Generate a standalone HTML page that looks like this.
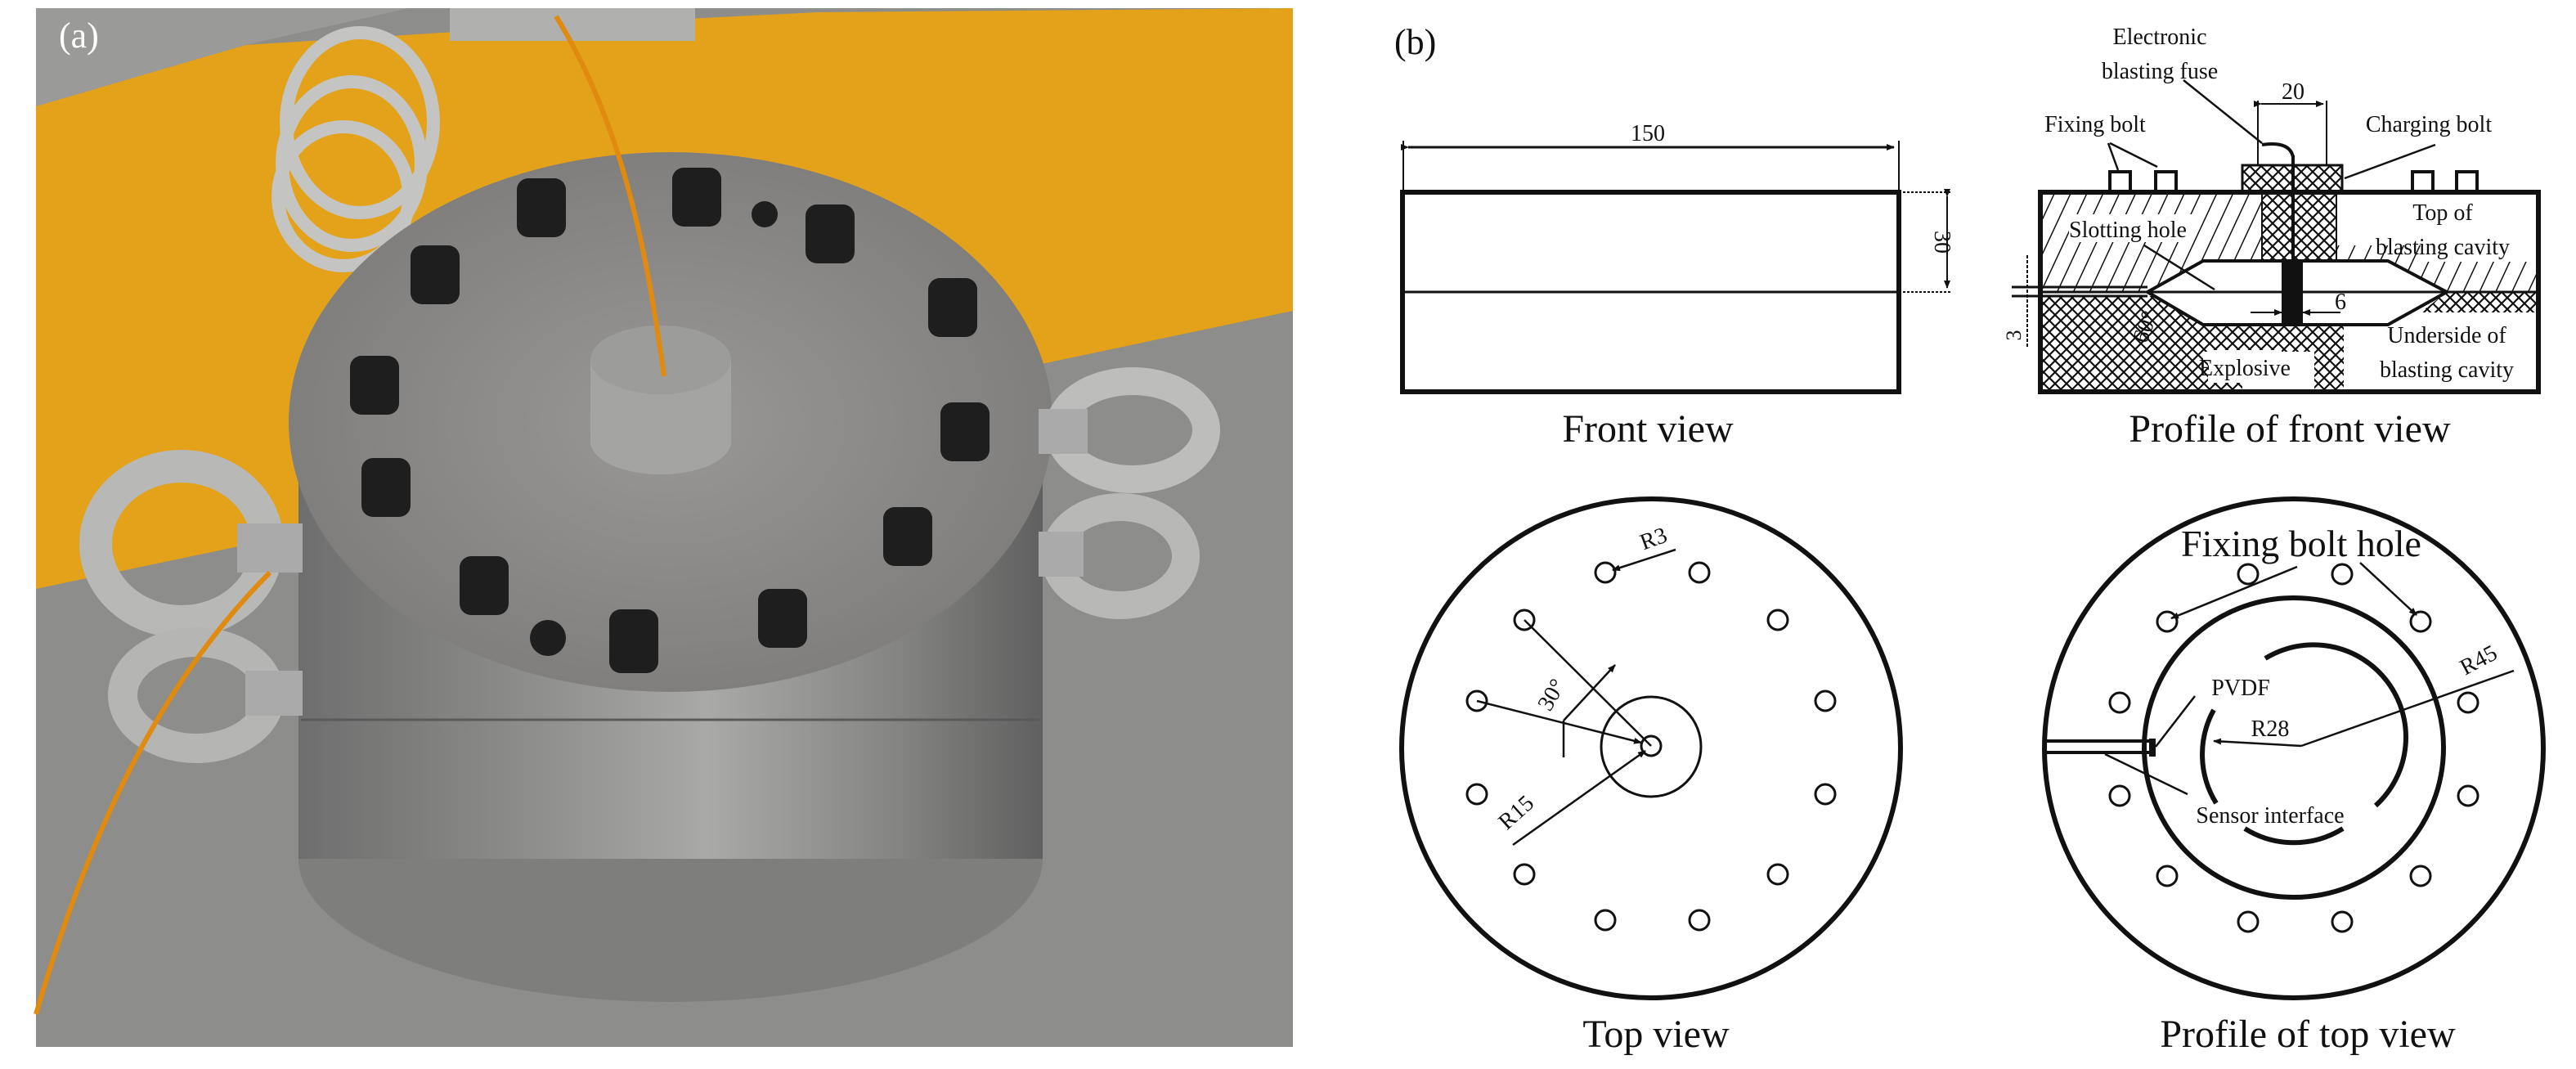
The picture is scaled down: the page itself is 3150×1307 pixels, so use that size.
<!DOCTYPE html>
<html><head><meta charset="utf-8"><style>
html,body{margin:0;padding:0;background:#fff;}
svg{display:block;}
text{font-family:"Liberation Serif",serif;fill:#111;}
</style></head><body>
<svg width="3150" height="1307" viewBox="0 0 3150 1307" xmlns="http://www.w3.org/2000/svg">
<defs>
<linearGradient id="metal" x1="0" x2="1" y1="0" y2="0">
<stop offset="0" stop-color="#6e6e6e"/><stop offset="0.3" stop-color="#8c8c8a"/><stop offset="0.55" stop-color="#a9a9a7"/><stop offset="0.8" stop-color="#858583"/><stop offset="1" stop-color="#606060"/>
</linearGradient>
<radialGradient id="topf" cx="0.5" cy="0.5" r="0.6">
<stop offset="0" stop-color="#9a9896"/><stop offset="1" stop-color="#7b7a78"/>
</radialGradient>
<pattern id="diag" width="18" height="18" patternUnits="userSpaceOnUse" patternTransform="rotate(25)">
<line x1="0" y1="0" x2="0" y2="18" stroke="#111" stroke-width="3"/>
</pattern>
<pattern id="cross" width="14" height="14" patternUnits="userSpaceOnUse">
<path d="M0 0L14 14M14 0L0 14" stroke="#111" stroke-width="2.2"/>
</pattern>
<marker id="ar" markerWidth="10" markerHeight="8" refX="9" refY="4" orient="auto" markerUnits="userSpaceOnUse"><path d="M0 0L10 4L0 8z" fill="#111"/></marker>
</defs>

<!-- PHOTO (a) -->
<rect x="44" y="10" width="1537" height="1270" fill="#8d8d8b"/>
<polygon points="44,130 300,55 700,30 1000,15 1581,10 1581,380 1250,450 800,560 330,660 44,720" fill="#e3a21a"/>
<polygon points="44,10 500,10 300,55 44,130" fill="#9a9a98"/>
<rect x="550" y="10" width="300" height="40" fill="#b0b0ae"/>
<!-- coil -->
<g fill="none" stroke="#c4c4c2" stroke-width="16">
<ellipse cx="440" cy="150" rx="90" ry="110"/>
<ellipse cx="430" cy="200" rx="85" ry="100"/>
<ellipse cx="420" cy="240" rx="80" ry="85"/>
</g>
<!-- cylinder -->
<ellipse cx="820" cy="1050" rx="455" ry="175" fill="#7e7e7c"/>
<rect x="365" y="516" width="910" height="534" fill="url(#metal)"/>
<line x1="368" y1="880" x2="1272" y2="880" stroke="#5a5a5a" stroke-width="3"/>
<ellipse cx="820" cy="516" rx="467" ry="330" fill="url(#topf)"/>
<!-- eye bolts -->
<ellipse cx="222" cy="665" rx="105" ry="95" fill="none" stroke="#b8b8b6" stroke-width="40"/>
<rect x="290" y="640" width="80" height="60" fill="#aaa"/>
<ellipse cx="240" cy="850" rx="90" ry="65" fill="none" stroke="#b5b5b3" stroke-width="36"/>
<rect x="300" y="820" width="70" height="55" fill="#aaa"/>
<ellipse cx="1385" cy="526" rx="90" ry="60" fill="none" stroke="#bdbdbb" stroke-width="34"/>
<rect x="1270" y="500" width="60" height="55" fill="#aaa"/>
<ellipse cx="1370" cy="680" rx="80" ry="60" fill="none" stroke="#b8b8b6" stroke-width="34"/>
<rect x="1270" y="650" width="55" height="55" fill="#aaa"/>
<!-- boss -->
<rect x="722" y="440" width="172" height="100" fill="#a4a4a2"/>
<ellipse cx="808" cy="540" rx="86" ry="40" fill="#a4a4a2"/>
<ellipse cx="808" cy="440" rx="86" ry="42" fill="#9c9c9a"/>
<!-- bolts -->
<g fill="#1e1e1e">
<rect x="632" y="218" width="60" height="72" rx="14"/>
<rect x="822" y="205" width="60" height="72" rx="14"/>
<rect x="985" y="250" width="60" height="72" rx="14"/>
<rect x="502" y="300" width="60" height="72" rx="14"/>
<rect x="1135" y="340" width="60" height="72" rx="14"/>
<rect x="428" y="435" width="60" height="72" rx="14"/>
<rect x="1150" y="492" width="60" height="72" rx="14"/>
<rect x="442" y="560" width="60" height="72" rx="14"/>
<rect x="1080" y="620" width="60" height="72" rx="14"/>
<rect x="562" y="680" width="60" height="72" rx="14"/>
<rect x="745" y="745" width="60" height="78" rx="14"/>
<rect x="927" y="720" width="60" height="72" rx="14"/>
<circle cx="935" cy="262" r="16"/>
<circle cx="670" cy="780" r="22"/>
</g>
<!-- wires -->
<path d="M812,460 C790,300 760,150 680,20" fill="none" stroke="#e08a10" stroke-width="6"/>
<path d="M44,1240 C100,1050 180,850 330,700" fill="none" stroke="#e08a10" stroke-width="6"/>
<text x="72" y="58" font-size="44" style="fill:#fff">(a)</text>

<!-- (b) -->
<text x="1705" y="66" font-size="44">(b)</text>

<!-- FRONT VIEW -->
<rect x="1715" y="235" width="607" height="244" fill="none" stroke="#111" stroke-width="6"/>
<line x1="1715" y1="357" x2="2322" y2="357" stroke="#111" stroke-width="3"/>
<line x1="1716" y1="172" x2="1716" y2="235" stroke="#111" stroke-width="2"/>
<line x1="2322" y1="172" x2="2322" y2="235" stroke="#111" stroke-width="2"/>
<line x1="1722" y1="180" x2="2316" y2="180" stroke="#111" stroke-width="3" marker-end="url(#ar)" marker-start="url(#ar)"/>
<text x="2015" y="172" font-size="28" text-anchor="middle">150</text>
<line x1="2322" y1="235" x2="2385" y2="235" stroke="#111" stroke-width="2" stroke-dasharray="3 2"/>
<line x1="2322" y1="357" x2="2385" y2="357" stroke="#111" stroke-width="2" stroke-dasharray="3 2"/>
<line x1="2381" y1="240" x2="2381" y2="352" stroke="#111" stroke-width="2" marker-end="url(#ar)" marker-start="url(#ar)"/>
<text x="2366" y="296" font-size="28" text-anchor="middle" transform="rotate(90 2366 296)">30</text>
<text x="2015" y="540" font-size="48" text-anchor="middle">Front view</text>

<!-- PROFILE OF FRONT VIEW -->
<g>
<polygon points="2495,235 2766,235 2766,320 2694,319 2626,357 2495,357" fill="url(#diag)"/>
<polygon points="2857,320 2920,319 2992,357 3104,357 3104,320 2960,320 2960,300 2857,300" fill="url(#diag)"/>
<polygon points="2495,362 2640,362 2694,397 2694,440 2742,440 2742,479 2495,479" fill="url(#cross)"/>
<polygon points="2694,397 2866,397 2866,479 2830,479 2830,430 2694,430" fill="url(#cross)"/>
<polygon points="2992,357 3104,357 3104,382 2960,382" fill="url(#cross)"/>
<rect x="2742" y="202" width="122" height="33" fill="url(#cross)"/>
<rect x="2766" y="235" width="91" height="84" fill="url(#cross)"/>
<rect x="2530" y="262" width="150" height="34" fill="#fff"/>
<rect x="2700" y="428" width="90" height="40" fill="#fff"/>
<polygon points="2694,319 2920,319 2992,357 2920,397 2694,397 2626,357" fill="#fff" stroke="#111" stroke-width="4"/>
<rect x="2790" y="319" width="26" height="78" fill="#111"/>
<line x1="2804" y1="190" x2="2804" y2="319" stroke="#111" stroke-width="4"/>
<path d="M2766,177 Q2800,172 2804,192" fill="none" stroke="#111" stroke-width="4"/>
<rect x="2742" y="202" width="122" height="33" fill="none" stroke="#111" stroke-width="3"/>
<line x1="2766" y1="235" x2="2766" y2="320" stroke="#111" stroke-width="2"/>
<line x1="2857" y1="235" x2="2857" y2="320" stroke="#111" stroke-width="2"/>
<rect x="2495" y="235" width="609" height="244" fill="none" stroke="#111" stroke-width="6"/>
<line x1="2495" y1="357" x2="3104" y2="357" stroke="#111" stroke-width="3"/>
<line x1="2460" y1="351" x2="2626" y2="351" stroke="#111" stroke-width="3"/>
<line x1="2460" y1="362" x2="2626" y2="362" stroke="#111" stroke-width="3"/>
<line x1="2479" y1="312" x2="2479" y2="424" stroke="#111" stroke-width="2" stroke-dasharray="4 2"/>
<g fill="none" stroke="#111" stroke-width="4">
<path d="M2580,235V210H2605V235"/><path d="M2636,235V210H2661V235"/>
<path d="M2950,235V210H2975V235"/><path d="M3004,235V210H3029V235"/>
</g>
<line x1="2761" y1="123" x2="2761" y2="202" stroke="#111" stroke-width="2"/>
<line x1="2845" y1="123" x2="2845" y2="202" stroke="#111" stroke-width="2"/>
<line x1="2765" y1="127" x2="2841" y2="127" stroke="#111" stroke-width="2" marker-end="url(#ar)" marker-start="url(#ar)"/>
<text x="2804" y="121" font-size="28" text-anchor="middle">20</text>
<line x1="2752" y1="382" x2="2790" y2="382" stroke="#111" stroke-width="2" marker-end="url(#ar)"/>
<line x1="2862" y1="382" x2="2816" y2="382" stroke="#111" stroke-width="2" marker-end="url(#ar)"/>
<text x="2862" y="378" font-size="28" text-anchor="middle">6</text>
<text x="2463" y="410" font-size="26" text-anchor="middle" transform="rotate(-90 2463 410)" dy="8">3</text>
<text x="2624" y="400" font-size="28" text-anchor="middle" transform="rotate(-70 2624 400)" dy="8">60°</text>
<g stroke="#111" stroke-width="2.5" fill="none">
<line x1="2670" y1="98" x2="2766" y2="175"/>
<line x1="2578" y1="175" x2="2590" y2="208"/><line x1="2580" y1="175" x2="2638" y2="204"/>
<line x1="2978" y1="177" x2="2867" y2="218"/>
<line x1="2622" y1="300" x2="2708" y2="354"/>
</g>
<g font-size="28" text-anchor="middle">
<text x="2641" y="54">Electronic</text>
<text x="2641" y="96">blasting fuse</text>
<text x="2562" y="161">Fixing bolt</text>
<text x="2970" y="161">Charging bolt</text>
<text x="2987" y="269">Top of</text>
<text x="2987" y="311">blasting cavity</text>
<text x="2602" y="290">Slotting hole</text>
<text x="2992" y="419">Underside of</text>
<text x="2992" y="461">blasting cavity</text>
<text x="2745" y="459">Explosive</text>
</g>
<text x="2800" y="540" font-size="48" text-anchor="middle">Profile of front view</text>
</g>

<!-- TOP VIEW -->
<circle cx="2019" cy="915" r="305" fill="none" stroke="#111" stroke-width="6"/>
<g fill="none" stroke="#111" stroke-width="3">
<circle cx="1963" cy="700" r="12"/><circle cx="2078" cy="700" r="12"/>
<circle cx="1864" cy="758" r="12"/><circle cx="2174" cy="758" r="12"/>
<circle cx="1806" cy="857" r="12"/><circle cx="2232" cy="857" r="12"/>
<circle cx="1806" cy="971" r="12"/><circle cx="2232" cy="971" r="12"/>
<circle cx="1864" cy="1069" r="12"/><circle cx="2174" cy="1069" r="12"/>
<circle cx="1963" cy="1125" r="12"/><circle cx="2078" cy="1125" r="12"/>
<circle cx="2019" cy="912" r="12"/>
<circle cx="2019" cy="913" r="61"/>
</g>
<g stroke="#111" stroke-width="2.5" fill="none">
<line x1="1864" y1="758" x2="2019" y2="912"/>
<line x1="1806" y1="857" x2="2007" y2="908" marker-end="url(#ar)"/>
<line x1="1912" y1="926" x2="1912" y2="881"/>
<line x1="1912" y1="881" x2="1975" y2="813" marker-end="url(#ar)"/>
<line x1="1850" y1="1033" x2="2012" y2="918" marker-end="url(#ar)"/>
<line x1="2049" y1="672" x2="1972" y2="697" marker-end="url(#ar)"/>
</g>
<text x="1905" y="854" font-size="28" text-anchor="middle" transform="rotate(-60 1905 854)">30°</text>
<text x="1860" y="1000" font-size="28" text-anchor="middle" transform="rotate(-42 1860 1000)">R15</text>
<text x="2025" y="667" font-size="28" text-anchor="middle" transform="rotate(-20 2025 667)">R3</text>
<text x="2025" y="1280" font-size="48" text-anchor="middle">Top view</text>

<!-- PROFILE OF TOP VIEW -->
<circle cx="2805" cy="915" r="305" fill="none" stroke="#111" stroke-width="6"/>
<circle cx="2805" cy="914" r="183" fill="none" stroke="#111" stroke-width="6"/>
<g fill="none" stroke="#111" stroke-width="3">
<circle cx="2749" cy="702" r="12"/><circle cx="2864" cy="702" r="12"/>
<circle cx="2650" cy="760" r="12"/><circle cx="2960" cy="760" r="12"/>
<circle cx="2592" cy="859" r="12"/><circle cx="3018" cy="859" r="12"/>
<circle cx="2592" cy="973" r="12"/><circle cx="3018" cy="973" r="12"/>
<circle cx="2650" cy="1071" r="12"/><circle cx="2960" cy="1071" r="12"/>
<circle cx="2749" cy="1127" r="12"/><circle cx="2864" cy="1127" r="12"/>
</g>
<g fill="none" stroke="#111" stroke-width="6">
<path d="M2707,868 A113,113 0 0 0 2710,982"/>
<path d="M2770,805 A113,113 0 0 1 2905,985"/>
<path d="M2745,1013 A113,113 0 0 0 2865,1013"/>
</g>
<rect x="2501" y="906" width="130" height="14" fill="none" stroke="#111" stroke-width="4"/>
<rect x="2628" y="903" width="8" height="22" fill="#111"/>
<g stroke="#111" stroke-width="2.5" fill="none">
<line x1="2809" y1="693" x2="2655" y2="756" marker-end="url(#ar)"/>
<line x1="2886" y1="688" x2="2955" y2="752" marker-end="url(#ar)"/>
<line x1="2684" y1="851" x2="2636" y2="913"/>
<line x1="2814" y1="912" x2="2707" y2="906" marker-end="url(#ar)"/>
<line x1="2814" y1="912" x2="3074" y2="820"/>
<line x1="2574" y1="922" x2="2675" y2="971"/>
</g>
<text x="2814" y="680" font-size="46" text-anchor="middle">Fixing bolt hole</text>
<text x="2740" y="850" font-size="28" text-anchor="middle">PVDF</text>
<text x="2776" y="900" font-size="28" text-anchor="middle">R28</text>
<text x="3035" y="815" font-size="28" text-anchor="middle" transform="rotate(-28 3035 815)">R45</text>
<text x="2776" y="1006" font-size="28" text-anchor="middle">Sensor interface</text>
<text x="2822" y="1280" font-size="48" text-anchor="middle">Profile of top view</text>
</svg>
</body></html>
